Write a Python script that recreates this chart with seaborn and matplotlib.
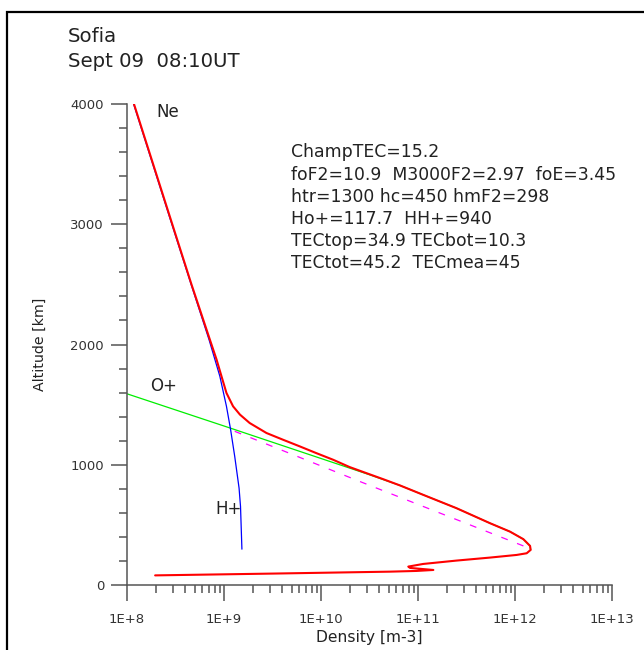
import numpy as np
import pandas as pd
import seaborn as sns
import matplotlib.pyplot as plt
from matplotlib.patches import Rectangle
from matplotlib.ticker import LogLocator, MultipleLocator, FuncFormatter, NullFormatter

# electron density profile (top -> bottom)
ne_alt = [4000, 3000, 2500, 2042, 1875, 1736, 1597, 1486, 1417, 1347, 1264, 1208, 1153,
          1097, 1042, 981, 931, 881, 828, 750, 639, 514, 444, 381, 325, 292, 264, 250,
          228, 203, 175, 153, 142, 125, 117, 111, 95, 80]
ne_dens = [1.18e8, 2.93e8, 4.62e8, 7.14e8, 8.38e8, 9.42e8, 1.06e9, 1.24e9, 1.46e9, 1.84e9,
           2.74e9, 4.06e9, 6.03e9, 8.93e9, 1.33e10, 1.97e10, 2.92e10, 4.34e10, 6.52e10,
           1.13e11, 2.49e11, 5.52e11, 8.87e11, 1.22e12, 1.43e12, 1.45e12, 1.32e12, 1.04e12,
           5.52e11, 2.49e11, 1.13e11, 7.94e10, 8.28e10, 1.44e11, 9.68e10, 5.14e10, 3.2e9, 1.95e8]

# H+ profile
hp_alt = [4000, 3000, 2500, 2042, 1736, 1486, 1292, 1069, 806, 653, 298]
hp_dens = [1.17e8, 2.9e8, 4.58e8, 7.0e8, 9.06e8, 1.06e9, 1.17e9, 1.29e9, 1.43e9, 1.48e9, 1.53e9]

# O+ profile
op_alt = [1590, 1306, 917, 828, 750, 639, 514, 444, 381, 325, 292]
op_dens = [1.0e8, 1.15e9, 3.16e10, 6.52e10, 1.13e11, 2.49e11, 5.52e11, 8.87e11, 1.22e12,
           1.43e12, 1.45e12]

# dashed topside extrapolation
ex_alt = [1278, 861, 306]
ex_dens = [1.29e9, 2.51e10, 1.40e12]

title_lines = ["Sofia", "Sept 09  08:10UT"]
stats_lines = ["ChampTEC=15.2",
               "foF2=10.9  M3000F2=2.97  foE=3.45",
               "htr=1300 hc=450 hmF2=298",
               "Ho+=117.7  HH+=940",
               "TECtop=34.9 TECbot=10.3",
               "TECtot=45.2  TECmea=45"]

sns.set_style('white')
plt.rcParams['font.family'] = ['DejaVu Sans']

fig = plt.figure(figsize=(6.44, 6.50), dpi=100)
ax = fig.add_axes([127/644, 1-585/650, (612-127)/644, (585-104)/650])

ne = pd.DataFrame({'dens': ne_dens, 'alt': ne_alt})
hp = pd.DataFrame({'dens': hp_dens, 'alt': hp_alt})
op = pd.DataFrame({'dens': op_dens, 'alt': op_alt})
ex = pd.DataFrame({'dens': ex_dens, 'alt': ex_alt})

sns.lineplot(data=op, x='dens', y='alt', sort=False, estimator=None, color='#00ee00', lw=0.9, ax=ax)
sns.lineplot(data=hp, x='dens', y='alt', sort=False, estimator=None, color='#0000ff', lw=0.9, ax=ax)
sns.lineplot(data=ne, x='dens', y='alt', sort=False, estimator=None, color='#ff0000', lw=1.5, ax=ax)
sns.lineplot(data=ex, x='dens', y='alt', sort=False, estimator=None, color='#ff00ff', lw=0.9,
             ax=ax, dashes=False, linestyle=(0, (5.5, 8)))

ax.set_xscale('log')
ax.set_xlim(1e8, 1e13)
ax.set_ylim(0, 4000)
ax.xaxis.set_major_locator(LogLocator(base=10, numticks=10))
ax.xaxis.set_minor_locator(LogLocator(base=10, subs=np.arange(2, 10), numticks=100))
ax.xaxis.set_major_formatter(FuncFormatter(lambda v, p: f"1E+{int(round(np.log10(v)))}"))
ax.xaxis.set_minor_formatter(NullFormatter())
ax.yaxis.set_major_locator(MultipleLocator(1000))
ax.yaxis.set_minor_locator(MultipleLocator(200))

sns.despine(ax=ax)
for s in ['left', 'bottom']:
    ax.spines[s].set_color('#555555')
    ax.spines[s].set_linewidth(1.1)
ax.tick_params(which='both', bottom=True, left=True, direction='out', color='#555555', width=1.1)
ax.tick_params(which='major', length=11.5, labelsize=9.5, labelcolor='#333333', pad=5)
ax.tick_params(axis='x', which='major', pad=8.6)
ax.tick_params(which='minor', length=5.8)

ax.set_xlabel('Density [m-3]', fontsize=11.2, color='#222222', labelpad=3)
ax.set_ylabel('Altitude [km]', fontsize=10.2, color='#222222', labelpad=17)

ax.text(1.99e8, 3889, 'Ne', fontsize=12, color='#222222', va='baseline')
ax.text(1.75e8, 1611, 'O+', fontsize=12, color='#222222', va='baseline')
ax.text(8.07e8, 589, 'H+', fontsize=12, color='#222222', va='baseline')

for i, t in enumerate(title_lines):
    fig.text(68/644, 1-(42+25*i)/650, t, fontsize=14.2, color='#222222', va='baseline')
for i, t in enumerate(stats_lines):
    fig.text(291/644, 1-(157.3+22.2*i)/650, t, fontsize=12.4, color='#222222', va='baseline')

fig.patches.append(Rectangle((7/644, -0.1), 1.2, 1-12/650+0.1, transform=fig.transFigure,
                             fill=False, lw=1.6, edgecolor='black'))

fig.savefig('out.png', dpi=100)
